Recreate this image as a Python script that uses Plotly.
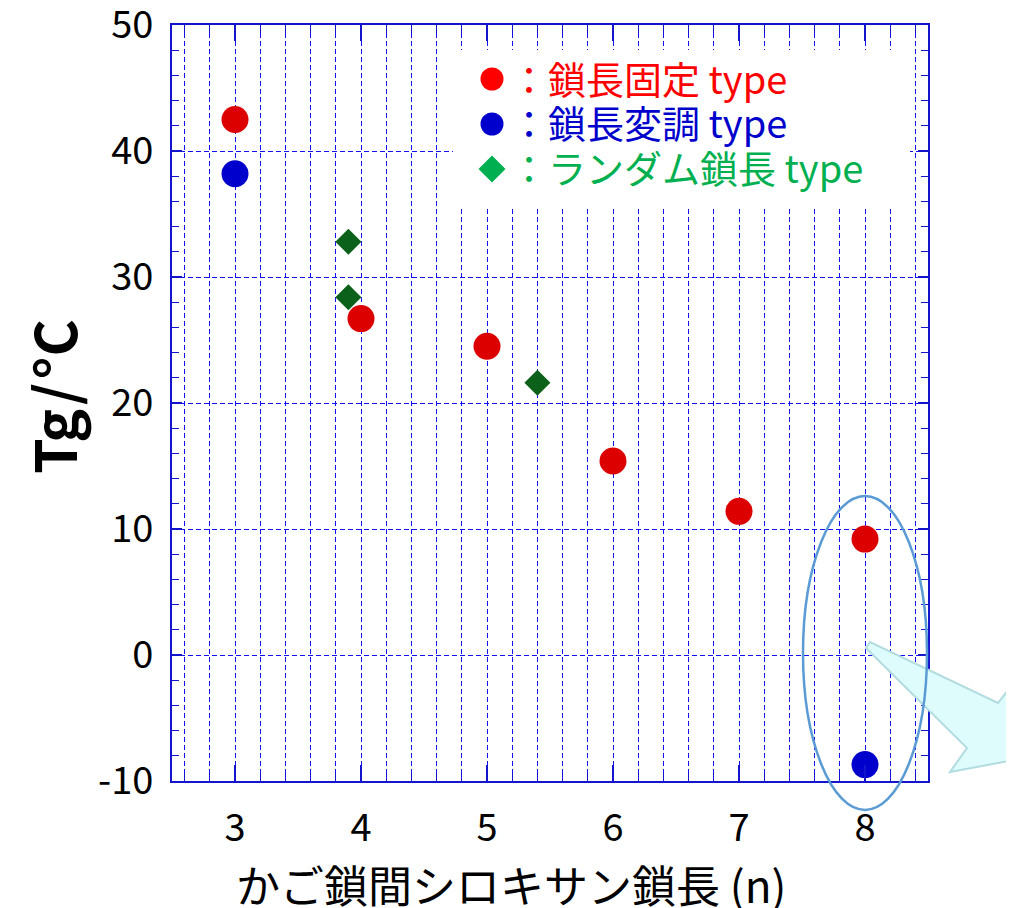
import plotly.graph_objects as go

# ---- data ----
x_fixed = [3, 4, 5, 6, 7, 8]
tg_fixed = [42.5, 26.7, 24.5, 15.4, 11.4, 9.2]
x_mod = [3, 8]
tg_mod = [38.2, -8.7]
x_rand = [3.9, 3.9, 5.4]
tg_rand = [32.8, 28.4, 21.6]

y_tickvals = [-10, 0, 10, 20, 30, 40, 50]
y_ticktext = ["-10", "0", "10", "20", "30", "40", "50"]
x_tickvals = [3, 4, 5, 6, 7, 8]
x_ticktext = ["3", "4", "5", "6", "7", "8"]

legend_labels = ["：鎖長固定 type", "：鎖長変調 type", "：ランダム鎖長 type"]
legend_colors = ["#FF0000", "#0000CC", "#00B050"]

x_title = "かご鎖間シロキサン鎖長 (n)"
y_title = "<b>Tg\u200a/\u200a°C</b>"

FONT = "Noto Sans CJK JP"
OFF = 8  # page body margin
W, H = 1014 - OFF, 908 - OFF
L, T = 172 - OFF, 25 - OFF
PW, PH = 756, 756
R, B = W - L - PW, H - T - PH


def px(xp):
    return (xp - OFF - L) / PW


def py(yp):
    return (T + PH - (yp - OFF)) / PH


GRID = "#1010F0"
AXC = "#1414CC"
DASH = "5px,3px"

fig = go.Figure()
fig.add_trace(go.Scatter(x=x_fixed, y=tg_fixed, mode="markers", name="鎖長固定 type",
                         marker=dict(symbol="circle", size=27, color="#DD0000")))
fig.add_trace(go.Scatter(x=x_mod, y=tg_mod, mode="markers", name="鎖長変調 type",
                         marker=dict(symbol="circle", size=27, color="#0000CC")))
fig.add_trace(go.Scatter(x=x_rand, y=tg_rand, mode="markers", name="ランダム鎖長 type",
                         marker=dict(symbol="diamond", size=20, color="#0B6119")))

shapes = []
# legend box (hides grid)
shapes.append(dict(type="rect", xref="paper", yref="paper", x0=px(453), x1=px(910),
                   y0=py(208), y1=py(50), fillcolor="white", line=dict(width=0), layer="above"))
# legend markers
row_y = [79, 124, 169]
mx = 492
shapes.append(dict(type="circle", xref="paper", yref="paper", xsizemode="pixel", ysizemode="pixel",
                   xanchor=px(mx), yanchor=py(row_y[0]), x0=-11.5, x1=11.5, y0=-11.5, y1=11.5,
                   fillcolor=legend_colors[0], line=dict(width=0), layer="above"))
shapes.append(dict(type="circle", xref="paper", yref="paper", xsizemode="pixel", ysizemode="pixel",
                   xanchor=px(mx), yanchor=py(row_y[1]), x0=-11.5, x1=11.5, y0=-11.5, y1=11.5,
                   fillcolor=legend_colors[1], line=dict(width=0), layer="above"))
shapes.append(dict(type="path", xref="paper", yref="paper", xsizemode="pixel", ysizemode="pixel",
                   xanchor=px(mx), yanchor=py(row_y[2]),
                   path="M -13.5 0 L 0 13.5 L 13.5 0 L 0 -13.5 Z",
                   fillcolor=legend_colors[2], line=dict(width=0), layer="above"))
# callout arrow
pts = [(866, 648), (870, 642), (998, 703), (1030, 662), (1030, 757), (950, 772), (967, 748)]
path = "M " + " L ".join(f"{px(a):.5f},{py(b):.5f}" for a, b in pts) + " Z"
shapes.append(dict(type="path", xref="paper", yref="paper", path=path,
                   fillcolor="#DEFCFC", line=dict(color="#B2DCE0", width=2), layer="above"))
# ellipse
shapes.append(dict(type="circle", xref="paper", yref="paper", x0=px(803), x1=px(927),
                   y0=py(810), y1=py(496), line=dict(color="#5B9BD5", width=2.5), layer="above"))

annotations = []
for i, (lab, col) in enumerate(zip(legend_labels, legend_colors)):
    annotations.append(dict(xref="paper", yref="paper", x=px(508), y=py(row_y[i] - 2),
                            xanchor="left", yanchor="middle", showarrow=False, text=lab,
                            font=dict(family=FONT, size=38, color=col)))
annotations.append(dict(xref="paper", yref="paper", x=px(511), y=py(884), xanchor="center",
                        yanchor="middle", showarrow=False, text=x_title,
                        font=dict(family=FONT, size=44, color="black")))
annotations.append(dict(xref="paper", yref="paper", x=px(52), y=py(397), xanchor="center",
                        yanchor="middle", showarrow=False, text=y_title, textangle=-90,
                        font=dict(family=FONT, size=57, color="black")))

fig.update_layout(
    width=W, height=H, margin=dict(l=L, r=R, t=T, b=B, autoexpand=False),
    paper_bgcolor="white", plot_bgcolor="white", showlegend=False,
    font=dict(family=FONT, color="black"),
    shapes=shapes, annotations=annotations,
)
fig.update_xaxes(
    range=[2.5, 8.5], tickvals=x_tickvals, ticktext=x_ticktext,
    showgrid=True, gridcolor=GRID, griddash=DASH, gridwidth=1,
    ticks="inside", ticklen=16, tickwidth=1.5, tickcolor=AXC,
    showline=True, linecolor=AXC, linewidth=2, mirror="ticks", zeroline=False,
    tickfont=dict(family=FONT, size=38, color="black"), ticklabelstandoff=12,
    ticklabeloverflow="allow",
    minor=dict(dtick=0.2, tick0=3, ticks="inside", ticklen=8, tickcolor=AXC, tickwidth=1,
               showgrid=True, gridcolor=GRID, griddash=DASH, gridwidth=1),
)
fig.update_yaxes(
    range=[-10, 50], tickvals=y_tickvals, ticktext=y_ticktext,
    showgrid=True, gridcolor=GRID, griddash=DASH, gridwidth=1,
    ticks="inside", ticklen=10, tickwidth=1.5, tickcolor=AXC,
    showline=True, linecolor=AXC, linewidth=2, mirror="ticks", zeroline=False,
    tickfont=dict(family=FONT, size=38, color="black"), ticklabelstandoff=9,
    ticklabeloverflow="allow",
    minor=dict(dtick=2, tick0=0, ticks="inside", ticklen=7, tickcolor=AXC, tickwidth=1,
               showgrid=False),
)

fig.write_html("out.html")
